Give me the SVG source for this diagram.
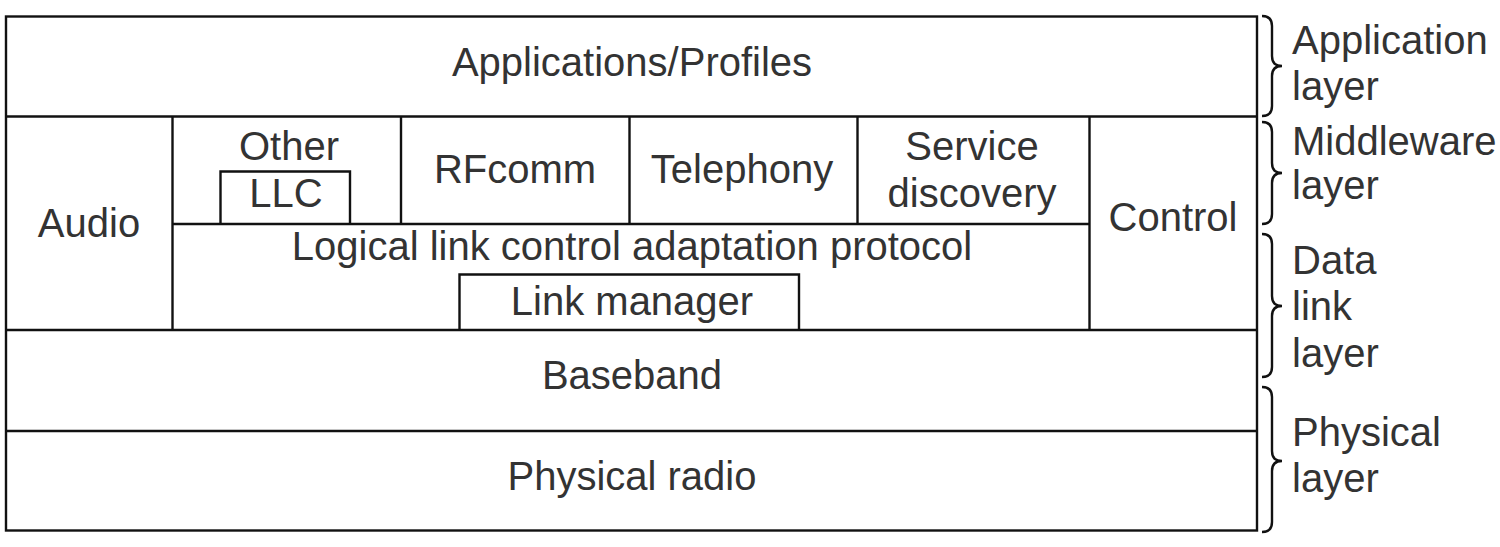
<svg xmlns="http://www.w3.org/2000/svg" width="1500" height="547" viewBox="0 0 1500 547">
<style>
.ln{stroke:#111;stroke-width:2.4;fill:none}
.br{stroke:#111;stroke-width:2.4;fill:none}
text{font-family:"Liberation Sans",Arial,sans-serif;font-size:40px;fill:#333}
.c{text-anchor:middle}
</style>
<rect width="1500" height="547" fill="#fff"/>
<g id="connectors">
<rect class="ln" x="6" y="16.5" width="1251" height="514"/>
<line class="ln" x1="6" y1="116.5" x2="1257" y2="116.5"/>
<line class="ln" x1="6" y1="330" x2="1257" y2="330"/>
<line class="ln" x1="6" y1="431" x2="1257" y2="431"/>
<line class="ln" x1="172.5" y1="116.5" x2="172.5" y2="330"/>
<line class="ln" x1="401" y1="116.5" x2="401" y2="224"/>
<line class="ln" x1="629.5" y1="116.5" x2="629.5" y2="224"/>
<line class="ln" x1="857.5" y1="116.5" x2="857.5" y2="224"/>
<line class="ln" x1="1089.5" y1="116.5" x2="1089.5" y2="330"/>
<line class="ln" x1="172.5" y1="224" x2="1089.5" y2="224"/>
<path class="ln" d="M220.5,224 V171.5 H350 V224"/>
<path class="ln" d="M459.5,330 V274.5 H799 V330"/>
</g>
<g id="braces">
<path class="br" d="M1262,16 Q1272,16 1272,26 L1272,56 Q1272,66 1282,66 Q1272,66 1272,76 L1272,106 Q1272,116 1262,116"/>
<path class="br" d="M1262,122 Q1272,122 1272,132 L1272,163 Q1272,173 1282,173 Q1272,173 1272,183 L1272,214 Q1272,224 1262,224"/>
<path class="br" d="M1262,234 Q1272,234 1272,244 L1272,296 Q1272,306 1282,306 Q1272,306 1272,316 L1272,367 Q1272,377 1262,377"/>
<path class="br" d="M1262,387 Q1272,387 1272,397 L1272,451 Q1272,461 1282,461 Q1272,461 1272,471 L1272,522 Q1272,532 1262,532"/>
</g>
<g id="applications"><text class="c" x="632" y="76">Applications/Profiles</text></g>
<g id="audio"><text class="c" x="89" y="237">Audio</text></g>
<g id="other"><text class="c" x="289" y="160">Other</text></g>
<g id="llc"><text class="c" x="286" y="207">LLC</text></g>
<g id="rfcomm"><text class="c" x="515" y="183">RFcomm</text></g>
<g id="telephony"><text class="c" x="742" y="183">Telephony</text></g>
<g id="service"><text class="c" x="972" y="160">Service</text><text class="c" x="972" y="207">discovery</text></g>
<g id="control"><text class="c" x="1173" y="231">Control</text></g>
<g id="l2cap"><text class="c" x="632" y="260">Logical link control adaptation protocol</text></g>
<g id="linkmanager"><text class="c" x="632" y="315">Link manager</text></g>
<g id="baseband"><text class="c" x="632" y="389">Baseband</text></g>
<g id="radio"><text class="c" x="632" y="490">Physical radio</text></g>
<g id="labels">
<text x="1292" y="54">Application</text>
<text x="1292" y="100">layer</text>
<text x="1292" y="155">Middleware</text>
<text x="1292" y="199">layer</text>
<text x="1292" y="274">Data</text>
<text x="1292" y="320">link</text>
<text x="1292" y="367">layer</text>
<text x="1292" y="446">Physical</text>
<text x="1292" y="492">layer</text>
</g>
</svg>
